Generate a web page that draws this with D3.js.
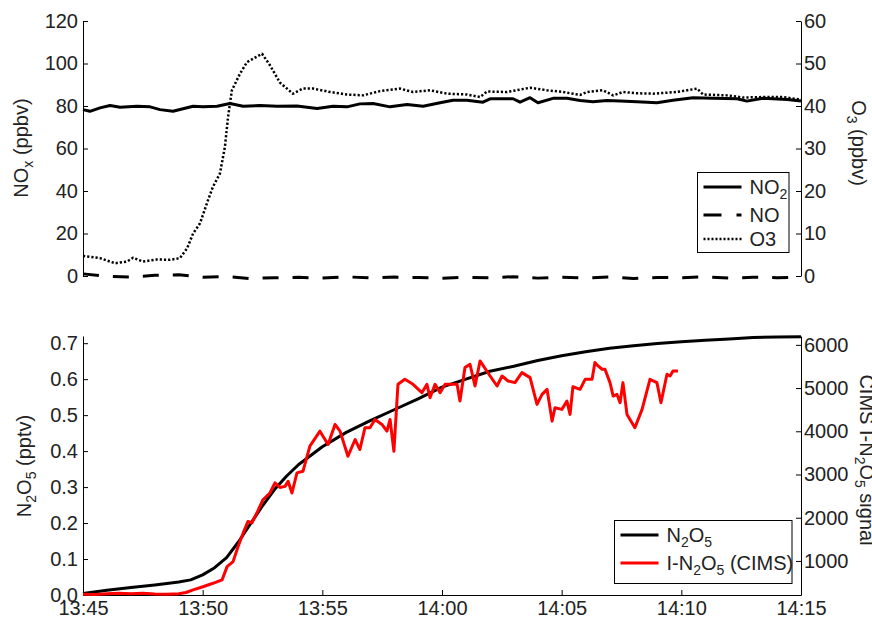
<!DOCTYPE html>
<html>
<head>
<meta charset="utf-8">
<script src="https://cdn.jsdelivr.net/npm/d3@7"></script>
<style>
  body { margin: 0; background: #fff; }
  svg { display: block; font-family: "Liberation Sans", Arial, sans-serif; }
  .axis text { font-size: 20px; fill: #222; }
  .axis path, .axis line { stroke: #000; stroke-width: 1; }
  .label { font-size: 20px; fill: #222; }
</style>
</head>
<body>
<script>
// time is given in minutes after 13:45

// top panel: NOx (left axis, ppbv) and O3 (right axis, ppbv)
const no2Minutes = [0, 0.29, 0.71, 1.13, 1.55, 2.26, 2.8, 3.22, 3.76, 4.18, 4.6, 5.01, 5.6, 6.14, 6.69, 7.4, 8.11, 8.94, 9.78, 10.45, 11.03, 11.57, 12.12, 12.83, 13.54, 14.21, 14.92, 15.46, 16.04, 16.71, 17.01, 17.97, 18.26, 18.68, 19.01, 19.64, 20.22, 20.77, 21.31, 21.89, 22.44, 23.15, 23.98, 24.65, 25.49, 26.32, 27.33, 27.74, 28.41, 29.42, 30];
const no2Values = [78.3, 77.5, 79.1, 80.2, 79.4, 79.9, 79.6, 78.3, 77.5, 78.7, 79.9, 79.6, 79.9, 81.2, 79.9, 80.2, 79.9, 80.0, 78.8, 79.9, 79.6, 81.0, 81.2, 79.6, 80.7, 79.9, 81.5, 82.7, 82.7, 81.8, 83.4, 83.4, 81.8, 83.9, 81.5, 83.6, 83.6, 82.6, 82.0, 82.6, 82.3, 82.0, 81.5, 82.7, 83.9, 83.6, 83.4, 82.3, 83.6, 83.1, 82.3];

const noMinutes = [0, 1, 2, 3, 4, 5, 6, 7, 8, 9, 10, 11, 12, 13, 14, 15, 16, 17, 18, 19, 20, 21, 22, 23, 24, 25, 26, 27, 28, 29, 30];
const noValues = [1.0, -0.2, -0.5, 0.3, 0.6, -0.6, -0.3, -1.2, -0.8, -0.6, -1.0, -0.4, -0.9, -0.5, -0.7, -1.1, -0.6, -0.8, -0.3, -1.0, -0.6, -0.9, -0.5, -1.2, -0.7, -0.8, -0.4, -1.0, -0.6, -0.8, -0.5];

const o3Minutes = [0, 0.71, 1.34, 1.84, 2.09, 2.51, 3.09, 3.64, 4.05, 4.35, 4.6, 4.89, 5.22, 5.43, 5.72, 5.93, 6.06, 6.22, 6.56, 6.85, 7.1, 7.48, 7.81, 8.23, 8.77, 9.19, 9.61, 10.32, 11.03, 11.7, 12.41, 13.24, 13.79, 14.5, 15.21, 16.04, 16.59, 16.88, 17.72, 18.68, 19.39, 20.06, 20.35, 20.77, 21.06, 21.73, 22.15, 22.56, 23.15, 23.82, 24.82, 25.66, 25.91, 26.91, 27.58, 28.41, 29.25, 30];
const o3Values = [4.7, 4.2, 3.0, 3.4, 4.3, 3.4, 3.9, 3.8, 4.2, 6.5, 10.0, 12.4, 17.8, 21.0, 24.1, 30.4, 37.4, 43.7, 47.6, 50.3, 51.1, 52.3, 49.6, 45.5, 42.9, 44.1, 44.1, 43.3, 42.7, 42.5, 43.5, 44.1, 43.3, 43.7, 42.9, 42.7, 42.1, 43.4, 43.3, 44.3, 43.7, 43.3, 43.0, 42.6, 43.3, 43.7, 42.5, 43.3, 43.0, 42.9, 43.3, 44.1, 42.7, 42.5, 42.0, 42.1, 42.1, 41.5];

// bottom panel: N2O5 (left axis, pptv) and CIMS signal (right axis)
const n2o5Minutes = [0, 1, 2, 3, 4, 4.5, 5, 5.5, 6, 6.5, 7, 7.5, 8, 8.5, 9, 10, 11, 12, 13, 14, 15, 16, 17, 18, 19, 20, 21, 22, 23, 24, 25, 26, 27, 28, 29, 30];
const n2o5Values = [0.004, 0.013, 0.021, 0.028, 0.036, 0.042, 0.056, 0.076, 0.104, 0.148, 0.198, 0.248, 0.293, 0.33, 0.362, 0.412, 0.452, 0.485, 0.515, 0.545, 0.578, 0.6, 0.622, 0.636, 0.652, 0.665, 0.676, 0.686, 0.693, 0.699, 0.704, 0.708, 0.712, 0.716, 0.717, 0.718];

const cimsMinutes = [0, 0.5, 1, 1.5, 2, 2.5, 3, 3.5, 4, 4.3, 4.6, 5.01, 5.43, 5.81, 6.02, 6.27, 6.48, 6.69, 6.89, 7.06, 7.27, 7.52, 7.81, 8.02, 8.23, 8.44, 8.57, 8.73, 8.94, 9.19, 9.48, 9.9, 10.24, 10.53, 10.74, 11.07, 11.37, 11.57, 11.78, 11.99, 12.2, 12.49, 12.7, 12.83, 12.99, 13.16, 13.45, 13.79, 14.16, 14.37, 14.5, 14.71, 14.92, 15.13, 15.63, 15.75, 15.96, 16.17, 16.38, 16.59, 17.01, 17.3, 17.51, 17.76, 18.05, 18.34, 18.68, 18.97, 19.18, 19.39, 19.6, 19.72, 20.01, 20.22, 20.35, 20.47, 20.77, 20.98, 21.1, 21.27, 21.39, 21.52, 21.69, 21.81, 22.02, 22.15, 22.31, 22.44, 22.56, 22.73, 23.06, 23.36, 23.69, 23.98, 24.15, 24.4, 24.53, 24.65, 24.86];
const cimsValues = [230, 225, 240, 255, 240, 250, 235, 230, 240, 270, 330, 404, 483, 560, 868, 984, 1333, 1643, 1913, 1883, 2115, 2417, 2572, 2805, 2700, 2726, 2842, 2572, 3037, 3074, 3655, 4003, 3694, 4158, 4003, 3422, 3810, 3578, 4081, 4081, 4274, 4158, 4003, 4274, 3539, 5087, 5203, 5087, 4894, 5087, 4778, 5087, 4894, 5087, 5087, 4700, 5474, 5551, 5048, 5628, 5280, 5048, 5280, 5164, 5126, 5358, 5242, 4623, 4855, 4971, 4235, 4546, 4507, 4700, 4391, 5030, 4971, 5203, 5203, 5203, 5590, 5513, 5435, 5435, 5126, 4816, 4855, 4662, 5126, 4391, 4081, 4507, 5203, 5126, 4662, 5319, 5280, 5396, 5396];

// tick values
const noxTicks = [0, 20, 40, 60, 80, 100, 120];
const o3Ticks = [0, 10, 20, 30, 40, 50, 60];
const n2o5Ticks = [0, 0.1, 0.2, 0.3, 0.4, 0.5, 0.6, 0.7];
const cimsTicks = [1000, 2000, 3000, 4000, 5000, 6000];

const width = 872, height = 621;
const left = 83, right = 801;
const top1 = 21, bottom1 = 276;
const top2 = 336, bottom2 = 595;

const t0 = new Date(2000, 0, 1, 13, 45);
const toDate = m => new Date(t0.getTime() + m * 60000);

const svg = d3.select('body').append('svg')
  .attr('width', width)
  .attr('height', height);

// scales
const x = d3.scaleTime()
  .domain([toDate(0), toDate(30)])
  .range([left, right]);

const yNox = d3.scaleLinear().domain([0, 120]).range([bottom1, top1]);
const yO3 = d3.scaleLinear().domain([0, 60]).range([bottom1, top1]);
const yN2o5 = d3.scaleLinear().domain([0, 0.72]).range([bottom2, top2]);
const yCims = d3.scaleLinear().domain([212, 6205]).range([bottom2, top2]);

// helper for a series of (minute, value) pairs
function series(minutes, values) {
  return minutes.map((m, i) => [toDate(m), values[i]]);
}

function drawLine(data, yScale, color, w, dash) {
  const line = d3.line()
    .x(d => x(d[0]))
    .y(d => yScale(d[1]));
  svg.append('path')
    .datum(data)
    .attr('d', line)
    .attr('fill', 'none')
    .attr('stroke', color)
    .attr('stroke-width', w)
    .attr('stroke-linejoin', 'round')
    .attr('stroke-dasharray', dash || null);
}

// text with subscripts: parts = [[text, isSub], ...]
function richText(sel, parts) {
  parts.forEach((p, i) => {
    const prevSub = i > 0 && parts[i - 1][1];
    const t = sel.append('tspan').text(p[0]);
    if (p[1]) t.attr('font-size', 14).attr('dy', 5);
    else if (prevSub) t.attr('dy', -5);
  });
  return sel;
}

// axes
function addAxis(axis, tx) {
  return svg.append('g')
    .attr('class', 'axis')
    .attr('transform', `translate(${tx},0)`)
    .call(axis);
}

addAxis(d3.axisLeft(yNox).tickValues(noxTicks).tickSizeInner(-5).tickSizeOuter(0).tickPadding(5), left);
addAxis(d3.axisRight(yO3).tickValues(o3Ticks).tickSizeInner(-5).tickSizeOuter(0).tickPadding(3), right);
addAxis(d3.axisLeft(yN2o5).tickValues(n2o5Ticks).tickFormat(d3.format('.1f')).tickSizeInner(-5).tickSizeOuter(0).tickPadding(5), left);
addAxis(d3.axisRight(yCims).tickValues(cimsTicks).tickFormat(d3.format('d')).tickSizeInner(-5).tickSizeOuter(0).tickPadding(3), right);

svg.append('g')
  .attr('class', 'axis')
  .attr('transform', `translate(0,${bottom2})`)
  .call(d3.axisBottom(x)
    .ticks(d3.timeMinute.every(5))
    .tickFormat(d3.timeFormat('%H:%M'))
    .tickSizeInner(-5).tickSizeOuter(0).tickPadding(6));

// top panel lines
drawLine(series(no2Minutes, no2Values), yNox, '#000', 3);
drawLine(series(noMinutes, noValues), yNox, '#000', 3, '16,14');
drawLine(series(o3Minutes, o3Values), yO3, '#000', 2.5, '2.2,2');

// bottom panel lines
drawLine(series(n2o5Minutes, n2o5Values), yN2o5, '#000', 3);
drawLine(series(cimsMinutes, cimsValues), yCims, '#ff0000', 3);

// axis titles
function axisTitle(cx, cy, angle, parts) {
  const t = svg.append('text')
    .attr('class', 'label')
    .attr('transform', `translate(${cx},${cy}) rotate(${angle})`)
    .attr('text-anchor', 'middle')
    .attr('y', 7);
  richText(t, parts);
}

axisTitle(21, 148, -90, [['NO', false], ['x', true], [' (ppbv)', false]]);
axisTitle(859, 143, 90, [['O', false], ['3', true], [' (ppbv)', false]]);
axisTitle(24, 466, -90, [['N', false], ['2', true], ['O', false], ['5', true], [' (pptv)', false]]);
axisTitle(867, 460, 90, [['CIMS I-N', false], ['2', true], ['O', false], ['5', true], [' signal', false]]);

// legends
function legend(box, rows) {
  const g = svg.append('g');
  g.append('rect')
    .attr('x', box.x).attr('y', box.y)
    .attr('width', box.w).attr('height', box.h)
    .attr('fill', '#fff')
    .attr('stroke', '#000')
    .attr('stroke-width', 1);
  rows.forEach(r => {
    g.append('line')
      .attr('x1', box.x + 6).attr('x2', box.x + 44)
      .attr('y1', r.y).attr('y2', r.y)
      .attr('stroke', r.color)
      .attr('stroke-width', r.w)
      .attr('stroke-dasharray', r.dash || null);
    const t = g.append('text')
      .attr('class', 'label')
      .attr('x', box.x + 52)
      .attr('y', r.y + 7);
    richText(t, r.parts);
  });
}

legend({ x: 697.5, y: 172.5, w: 91.5, h: 80 }, [
  { y: 187, color: '#000', w: 3, parts: [['NO', false], ['2', true]] },
  { y: 215, color: '#000', w: 3, dash: '18,15', parts: [['NO', false]] },
  { y: 239, color: '#000', w: 2.5, dash: '2,2', parts: [['O3', false]] }
]);

legend({ x: 614.5, y: 520.5, w: 177.5, h: 63 }, [
  { y: 535, color: '#000', w: 3, parts: [['N', false], ['2', true], ['O', false], ['5', true]] },
  { y: 563, color: '#ff0000', w: 3, parts: [['I-N', false], ['2', true], ['O', false], ['5', true], [' (CIMS)', false]] }
]);
</script>
</body>
</html>
